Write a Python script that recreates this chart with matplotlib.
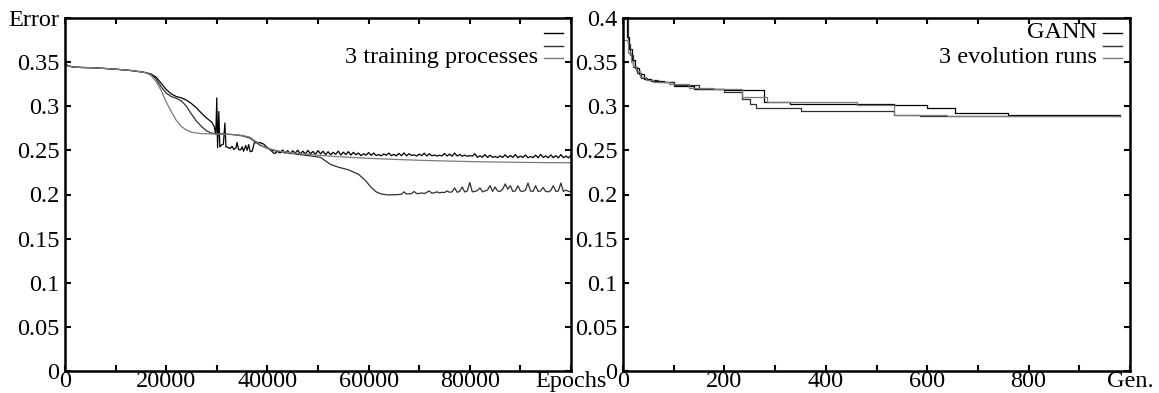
import numpy as np
import matplotlib
matplotlib.use("Agg")
import matplotlib.pyplot as plt
from matplotlib.ticker import MultipleLocator

plt.rcParams['font.family'] = ['Liberation Serif', 'DejaVu Serif']
plt.rcParams['font.size'] = 17.5

# ---- backprop training: error vs epochs (3 runs) ----
start_x = [0, 500, 1500, 3000, 6000, 10000, 13000, 15000, 16000]
start_y = [0.350, 0.346, 0.3445, 0.344, 0.3435, 0.342, 0.3405, 0.339, 0.338]

# run 1: spiky around 30000 then keeps oscillating near 0.243
bp1_x = [17000, 18000, 19000, 20000, 21000, 22000, 23000, 24000, 25000, 26000,
         27000, 28000, 29000, 29500, 29800, 30000, 30150, 30400, 30600, 30900,
         31300, 31600, 31800, 32200, 32600, 33000, 33400, 33800, 34000, 34300,
         34700, 35000, 35300, 35700, 36000, 36300, 36600, 37000, 37400, 38000,
         38700, 39300, 39800, 40300, 40800, 41200]
bp1_y = [0.3365, 0.333, 0.326, 0.319, 0.314, 0.311, 0.3095, 0.307, 0.303, 0.298,
         0.292, 0.2865, 0.282, 0.277, 0.268, 0.3095, 0.253, 0.294, 0.254, 0.256,
         0.257, 0.281, 0.254, 0.2535, 0.252, 0.2545, 0.251, 0.253, 0.259, 0.251,
         0.2505, 0.254, 0.249, 0.2555, 0.250, 0.2565, 0.2485, 0.249, 0.2585, 0.259,
         0.2585, 0.257, 0.254, 0.252, 0.2495, 0.247]
bp1_tail = [0.2465, 0.2490, 0.2470, 0.2505, 0.2468, 0.2498, 0.2462, 0.2495, 0.2470, 0.2502,
            0.2460, 0.2492, 0.2458, 0.2500, 0.2462, 0.2488, 0.2455, 0.2497, 0.2460, 0.2490,
            0.2452, 0.2485, 0.2450, 0.2478, 0.2455, 0.2492, 0.2448, 0.2480, 0.2452, 0.2486,
            0.2447, 0.2478, 0.2450, 0.2470, 0.2440, 0.2462, 0.2445, 0.2475, 0.2443, 0.2470,
            0.2442, 0.2452, 0.2438, 0.2460, 0.2445, 0.2470, 0.2440, 0.2455, 0.2438, 0.2466,
            0.2440, 0.2472, 0.2437, 0.2462, 0.2442, 0.2450, 0.2436, 0.2458, 0.2440, 0.2468,
            0.2436, 0.2462, 0.2438, 0.2448, 0.2435, 0.2445, 0.2437, 0.2465, 0.2436, 0.2458,
            0.2434, 0.2470, 0.2436, 0.2455, 0.2434, 0.2446, 0.2433, 0.2440, 0.2435, 0.2462,
            0.2420, 0.2440, 0.2422, 0.2452, 0.2419, 0.2445, 0.2421, 0.2430, 0.2418, 0.2438,
            0.2420, 0.2450, 0.2418, 0.2442, 0.2420, 0.2452, 0.2417, 0.2436, 0.2419, 0.2448,
            0.2416, 0.2432, 0.2418, 0.2446, 0.2416, 0.2455, 0.2418, 0.2438, 0.2416, 0.2450,
            0.2417, 0.2440, 0.2415, 0.2452, 0.2417, 0.2436, 0.2415, 0.2445]
bp1_tail_x = np.arange(41500, 100001, 500)

# run 2: second plateau, then falls to ~0.2 with small spikes
bp2_x = [17000, 18000, 19000, 20000, 21000, 22000, 23000, 24000, 25000, 26000,
         27000, 28000, 29000, 30000, 33000, 35000, 36500, 37500, 38500, 39500,
         41000, 43000, 46000, 49000, 50500, 51500, 52500, 54000, 56000, 58000,
         59500, 60500, 61500, 62500, 64000, 65500]
bp2_y = [0.336, 0.331, 0.322, 0.315, 0.311, 0.309, 0.306, 0.300, 0.291, 0.283,
         0.277, 0.272, 0.2695, 0.269, 0.268, 0.2665, 0.264, 0.260, 0.256, 0.2535,
         0.250, 0.248, 0.2455, 0.2435, 0.242, 0.238, 0.234, 0.231, 0.228, 0.223,
         0.215, 0.208, 0.203, 0.2005, 0.1995, 0.1998]
bp2_tail = [0.2000, 0.2003, 0.2030, 0.2005, 0.2008, 0.2010, 0.2035, 0.2010, 0.2012, 0.2018,
            0.2010, 0.2025, 0.2040, 0.2015, 0.2020, 0.2030, 0.2018, 0.2025, 0.2022, 0.2040,
            0.2025, 0.2030, 0.2075, 0.2025, 0.2035, 0.2085, 0.2028, 0.2040, 0.2135, 0.2030,
            0.2035, 0.2045, 0.2075, 0.2030, 0.2040, 0.2050, 0.2100, 0.2035, 0.2085, 0.2040,
            0.2035, 0.2060, 0.2120, 0.2060, 0.2100, 0.2035, 0.2040, 0.2100, 0.2040, 0.2035,
            0.2050, 0.2130, 0.2040, 0.2035, 0.2100, 0.2035, 0.2040, 0.2080, 0.2035, 0.2030,
            0.2045, 0.2100, 0.2035, 0.2040, 0.2130, 0.2035, 0.2050, 0.2035, 0.2030]
bp2_tail_x = np.arange(66000, 100001, 500)

# run 3: fastest drop, smooth decay to ~0.236
bp3_x = [17000, 18000, 19000, 20000, 21000, 22000, 23000, 24000, 25000, 27000,
         30000, 33000, 35000, 36500, 38000, 39000, 40000, 42000, 45000, 50000,
         55000, 60000, 65000, 70000, 75000, 80000, 85000, 90000, 95000, 100000]
bp3_y = [0.335, 0.328, 0.318, 0.305, 0.294, 0.284, 0.277, 0.273, 0.2705, 0.269,
         0.2685, 0.268, 0.267, 0.265, 0.259, 0.255, 0.2525, 0.2495, 0.247, 0.2445,
         0.2425, 0.241, 0.2398, 0.2388, 0.238, 0.2373, 0.2368, 0.2364, 0.2361, 0.236]

# ---- GANN: error vs generations (3 evolution runs) ----
ga1_gen = [0, 8, 12, 18, 24, 32, 42, 55, 80, 100, 140, 200, 278, 330, 461, 534,
           600, 655, 760, 980]
ga1_err = [0.45, 0.378, 0.365, 0.352, 0.343, 0.337, 0.331, 0.329, 0.327, 0.323,
           0.320, 0.318, 0.305, 0.303, 0.302, 0.301, 0.298, 0.292, 0.290, 0.2885]
ga2_gen = [0, 5, 10, 14, 20, 28, 36, 48, 70, 100, 150, 200, 234, 250, 263, 351,
           534, 585, 980]
ga2_err = [0.45, 0.40, 0.37, 0.358, 0.345, 0.338, 0.332, 0.330, 0.328, 0.324,
           0.320, 0.316, 0.308, 0.303, 0.2985, 0.295, 0.2905, 0.2892, 0.2885]
ga3_gen = [0, 4, 9, 15, 20, 26, 34, 45, 60, 90, 130, 180, 234, 285, 461, 534,
           640, 980]
ga3_err = [0.375, 0.375, 0.36, 0.35, 0.346, 0.34, 0.333, 0.330, 0.328, 0.325,
           0.321, 0.319, 0.310, 0.305, 0.3015, 0.290, 0.2892, 0.2885]

colors = ['#000000', '#303030', '#7a7a7a']

fig = plt.figure(figsize=(11.59, 3.93), dpi=100)
ax1 = fig.add_axes([65 / 1159, 22 / 393, 506 / 1159, 353 / 393])
ax2 = fig.add_axes([623 / 1159, 22 / 393, 507 / 1159, 353 / 393])

lw = 0.9
r1x = start_x + bp1_x + list(bp1_tail_x)
r1y = start_y + bp1_y + bp1_tail
r2x = start_x + bp2_x + list(bp2_tail_x)
r2y = start_y + bp2_y + bp2_tail
r3x = start_x + bp3_x
r3y = start_y + bp3_y
ax1.plot(r1x, r1y, color=colors[0], lw=lw)
ax1.plot(r2x, r2y, color=colors[1], lw=lw)
ax1.plot(r3x, r3y, color=colors[2], lw=lw)

ax2.step(ga1_gen, ga1_err, where='post', color=colors[0], lw=lw)
ax2.step(ga2_gen, ga2_err, where='post', color=colors[1], lw=lw)
ax2.step(ga3_gen, ga3_err, where='post', color=colors[2], lw=lw)

yt = [0, 0.05, 0.1, 0.15, 0.2, 0.25, 0.3, 0.35, 0.4]
ax1.set_xlim(0, 100000)
ax1.set_ylim(0, 0.4)
ax1.set_xticks([0, 20000, 40000, 60000, 80000, 100000])
ax1.set_xticklabels(['0', '20000', '40000', '60000', '80000', 'Epochs'])
ax1.xaxis.set_minor_locator(MultipleLocator(10000))
ax1.set_yticks(yt)
ax1.set_yticklabels(['0', '0.05', '0.1', '0.15', '0.2', '0.25', '0.3', '0.35', 'Error'])

ax2.set_xlim(0, 1000)
ax2.set_ylim(0, 0.4)
ax2.set_xticks([0, 200, 400, 600, 800, 1000])
ax2.set_xticklabels(['0', '200', '400', '600', '800', 'Gen.'])
ax2.xaxis.set_minor_locator(MultipleLocator(100))
ax2.set_yticks(yt)
ax2.set_yticklabels(['0', '0.05', '0.1', '0.15', '0.2', '0.25', '0.3', '0.35', '0.4'])

for ax in (ax1, ax2):
    for s in ax.spines.values():
        s.set_linewidth(1.8)
    ax.tick_params(which='both', direction='in', top=True, right=True,
                   length=4, width=1.5)
    ax.tick_params(axis='x', which='both', pad=0)
    ax.tick_params(axis='y', which='both', pad=4)

# key: short samples at top right, text right-aligned to their left
def key(ax, labels):
    rows = [0.958, 0.921, 0.887]
    for lab, yy, c in zip(labels, rows, colors):
        ax.plot([0.947, 0.984], [yy, yy], color=c, lw=1.0, transform=ax.transAxes)
        if lab:
            ax.text(0.935, yy, lab, transform=ax.transAxes, ha='right', va='center')

key(ax1, ['', '', '3 training processes'])
key(ax2, ['GANN', '', '3 evolution runs'])

fig.savefig('out.png', dpi=100)
